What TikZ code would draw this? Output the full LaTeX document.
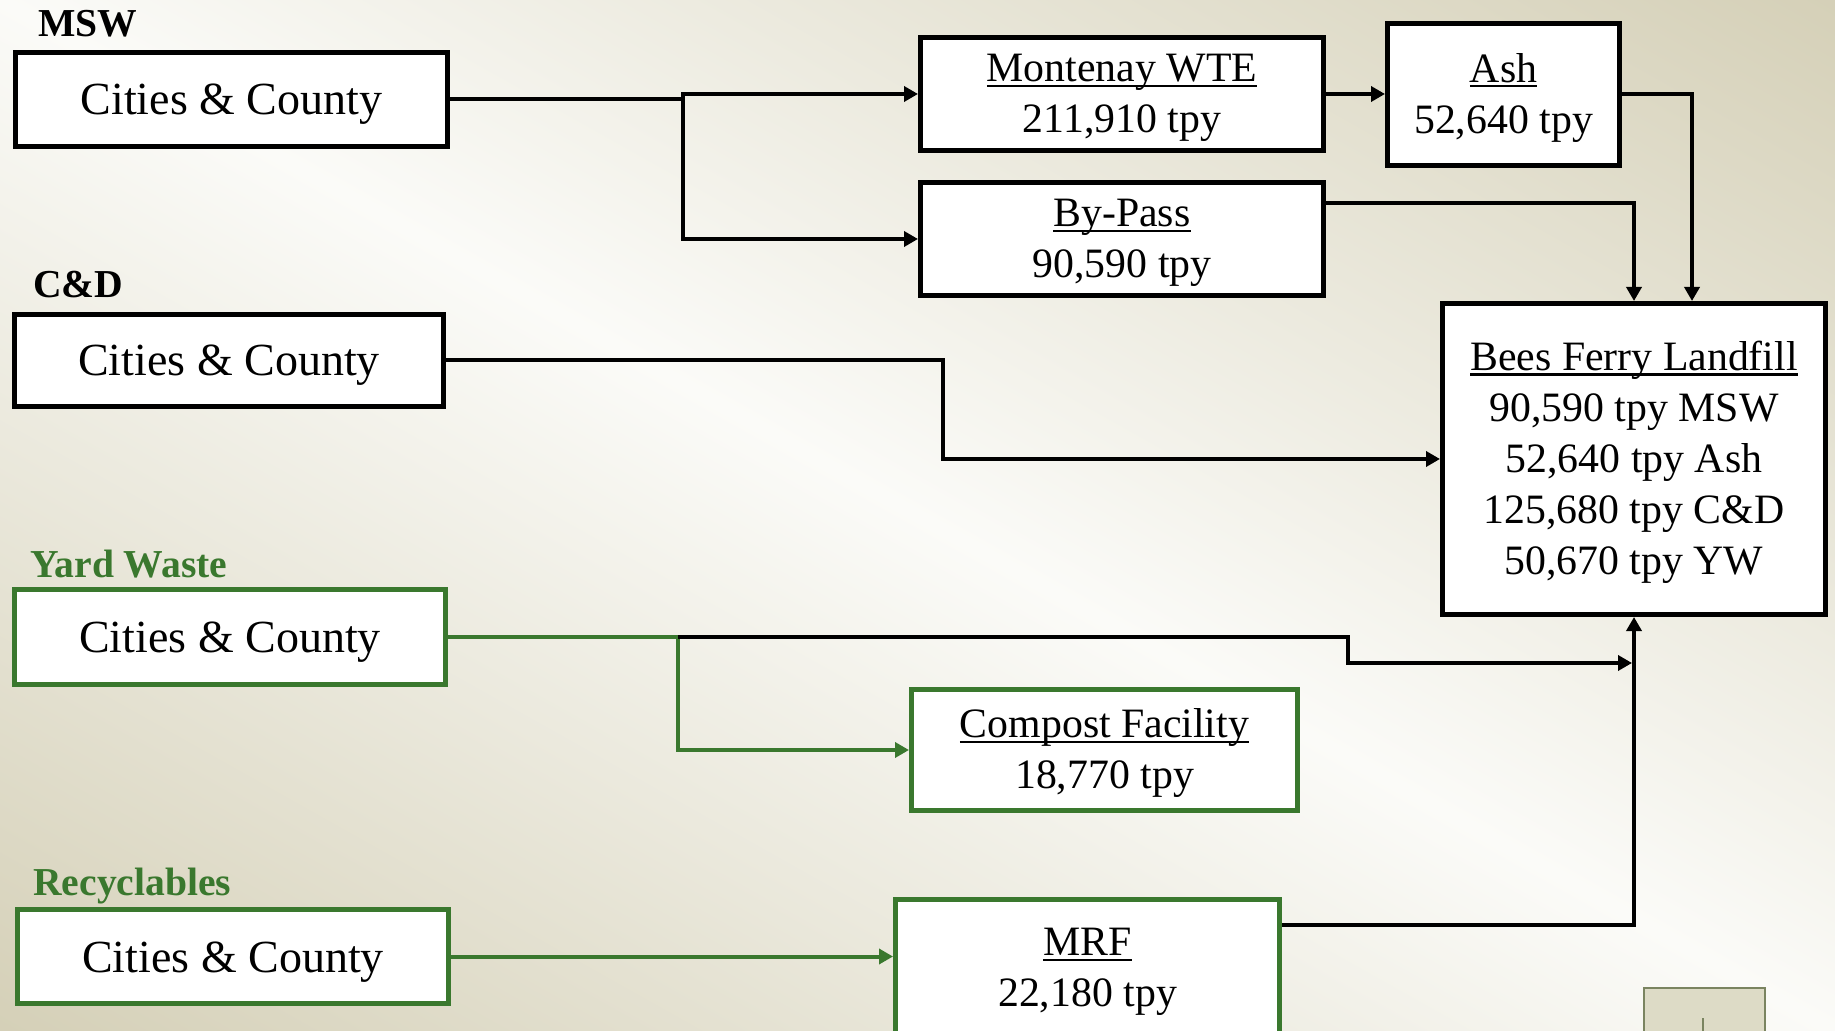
\documentclass[tikz,border=0pt]{standalone}
\usepackage{fontspec}
\setmainfont{Liberation Serif}
\usetikzlibrary{arrows.meta,calc}
\definecolor{bgbeige}{RGB}{212,207,182}
\definecolor{bglight}{RGB}{251,251,248}
\definecolor{ygreen}{RGB}{58,120,46}
\definecolor{navfill}{RGB}{221,219,198}
\definecolor{navline}{RGB}{122,132,96}
\newcommand{\myul}[1]{\setbox0=\hbox{#1}\rlap{\rule[-0.12em]{\wd0}{0.05em}}\box0}
\newcommand{\firstline}[1]{\rule{0pt}{18pt}\myul{#1}}
\begin{document}
\begin{tikzpicture}[x=0.5pt,y=-0.5pt,
  box/.style={draw, line width=2.4pt, fill=white, inner sep=0pt, align=center,
    font=\fontsize{20.9}{25.5}\selectfont},
  srcbox/.style={draw, line width=2.4pt, fill=white, inner sep=0pt,
    font=\fontsize{23}{27}\selectfont, text height=16pt, text depth=0.5pt},
  lbl/.style={anchor=base west, inner sep=0pt, font=\fontsize{19.8}{23}\selectfont\bfseries},
  conn/.style={line width=2pt},
  arr/.style={line width=2pt, -{Triangle[length=7pt,width=7.5pt]}},
]
\useasboundingbox (0,0) rectangle (1835,1031);
\begin{scope}
\clip (0,0) rectangle (1835,1031);
\begin{scope}[transform canvas={shift={(458.75pt,-257.75pt)},rotate=-29.33}]
\shade[top color=bgbeige, bottom color=bgbeige, middle color=bglight] (-1300pt,-460pt) rectangle (1300pt,460pt);
\end{scope}
\end{scope}

% labels
\node[lbl] (lmsw) at (38,37) {MSW};
\node[lbl] (lcd) at (33,298) {C\&D};
\node[lbl, text=ygreen] (lyw) at (30,577) {Yard Waste};
\node[lbl, text=ygreen] (lrc) at (33,895) {Recyclables};

% source boxes
\node[srcbox, minimum width=216pt, minimum height=47.1pt] (b1) at (231.5,99.5) {Cities \& County};
\node[srcbox, minimum width=214.6pt, minimum height=46.1pt] (b2) at (229,360.5) {Cities \& County};
\node[srcbox, draw=ygreen, minimum width=215.6pt, minimum height=47.6pt] (b3) at (230,637) {Cities \& County};
\node[srcbox, draw=ygreen, minimum width=215.6pt, minimum height=47.1pt] (b4) at (233,956.5) {Cities \& County};

% facility boxes
\node[box, minimum width=201.6pt, minimum height=56.6pt] (mont) at (1122,94) {\firstline{Montenay WTE}\\211,910 tpy};
\node[box, minimum width=201.6pt, minimum height=56.6pt] (bypass) at (1122,239) {\firstline{By-Pass}\\90,590 tpy};
\node[box, minimum width=116.1pt, minimum height=71.1pt] (ash) at (1503.5,94.5) {\firstline{Ash}\\52,640 tpy};
\node[box, minimum width=191.6pt, minimum height=155.6pt] (bees) at (1634,459) {\firstline{Bees Ferry Landfill}\\90,590 tpy MSW\\52,640 tpy Ash\\125,680 tpy C\&D\\50,670 tpy YW};
\node[box, draw=ygreen, minimum width=193.1pt, minimum height=60.6pt] (compost) at (1104.5,750) {\firstline{Compost Facility}\\18,770 tpy};
\node[box, draw=ygreen, minimum width=192.1pt, minimum height=68.6pt] (mrf) at (1087.5,968) {\firstline{MRF}\\22,180 tpy};

% small navigation box at bottom right
\node[draw=navline, fill=navfill, line width=1pt, inner sep=0pt, minimum width=60.5pt, minimum height=40pt] (nav) at (1704.5,1027.5) {};
\coordinate (navtick) at (1703,1018);
\draw[navline, line width=0.8pt] (navtick) -- (nav.south -| navtick);

% MSW connectors
\coordinate (j1) at (683,99.5);
\draw[arr] (b1.east) -- (j1) |- (mont.west);
\draw[arr] (j1) |- (bypass.west);
\draw[arr] (mont.east) -- (ash.west |- mont.east);
\draw[arr] (ash.east) -| ($(bees.north)+(58,0)$);
\draw[arr] ($(bypass.north east)+(0,23)$) -| (bees.north);

% C&D connector
\coordinate (j2) at (943,360.5);
\draw[arr] (b2.east) -- (j2) |- (bees.west);

% Yard waste connectors
\coordinate (j3) at (678,637);
\draw[conn, ygreen] (b3.east) -- (j3);
\draw[arr, ygreen] (j3) |- (compost.west);
\coordinate (k1) at (1348,637);
\coordinate (k2) at (1348,663);
\coordinate (ywin) at (1632,663);
\draw[arr] (j3) -- (k1) -- (k2) -- (ywin);

% Recyclables connectors
\draw[arr, ygreen] (b4.east) -- (b4.east -| mrf.west);
\draw[arr] ($(mrf.north east)+(0,28)$) -| (bees.south);
\end{tikzpicture}
\end{document}
